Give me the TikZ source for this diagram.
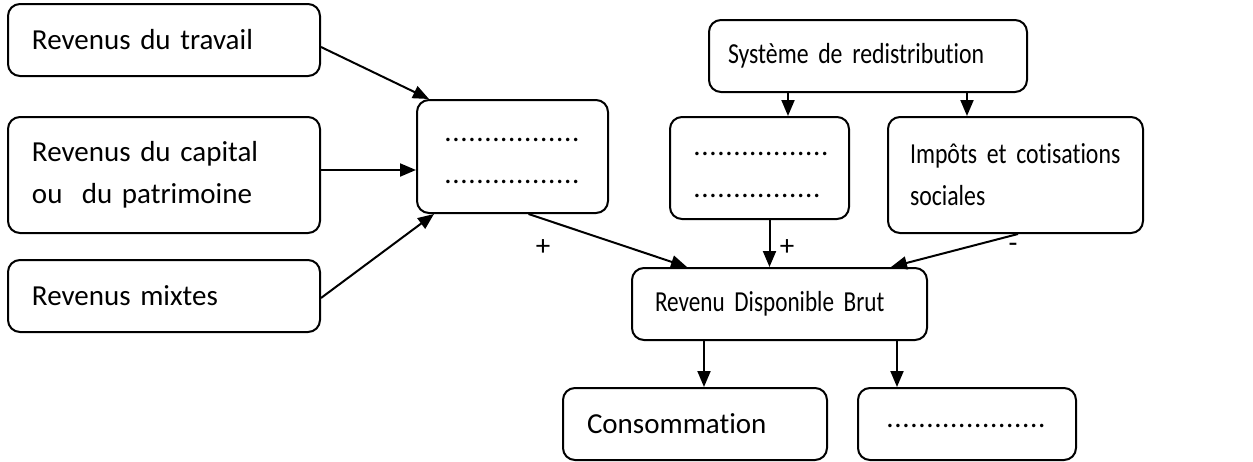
\documentclass[tikz,border=0pt]{standalone}
\usepackage{fontspec}
\setmainfont{Carlito}[Ligatures=NoCommon]
\newfontfamily\narrowfont{Carlito}[FakeStretch=0.82,Ligatures=NoCommon]
\newfontfamily\narrowerfont{Carlito}[FakeStretch=0.8,Ligatures=NoCommon]
\usetikzlibrary{arrows.meta}
\tikzstyle{box} = [draw,line width=1pt,rounded corners=6pt,align=left,inner xsep=12pt,inner ysep=0pt,minimum height=36pt,font=\fontsize{14.5}{21}\selectfont]
\tikzstyle{arrow} = [line width=1pt,-{Triangle[length=8pt,width=6.5pt]}]
\tikzstyle{sign} = [font=\fontsize{14.5}{16}\selectfont,inner sep=0pt]
\newdimen\dotpitch \dotpitch=4pt
\newcommand{\dotsline}[1]{\hbox to \dimexpr#1\dotpitch+0.2pt\relax{\leaders\hbox to \dotpitch{\hss.\hss}\hfil}}

\begin{document}
\begin{tikzpicture}[x=0.5pt,y=-0.5pt]
	\useasboundingbox (0,0) rectangle (1253,461);

	% sources de revenus
	\node (travail) at (164,40) [box,text width=132pt] {Revenus du travail};
	\node (capital) at (164,175) [box,text width=132pt,minimum height=58pt] {Revenus du capital\\ou\ \ du patrimoine};
	\node (mixtes) at (164,296) [box,text width=132pt] {Revenus mixtes};
	\node (primaires) at (512.5,156.5) [box,inner xsep=13.5pt,text width=68.5pt,minimum height=56.5pt] {\rule{0pt}{6pt}\dotsline{17}\\\dotsline{17}};

	% redistribution
	\node (redis) at (868,56) [box,inner xsep=9.5pt,text width=140pt] {\narrowfont Système de redistribution};
	\node (presta) at (759.5,168) [box,inner xsep=11.5pt,text width=66.5pt,minimum height=51pt] {\rule{0pt}{9pt}\dotsline{17}\\\dotsline{16}};
	\node (impots) at (1015.5,175) [box,inner xsep=11pt,text width=105.5pt,minimum height=58pt] {\narrowfont Impôts et cotisations\\sociales};

	% revenu disponible et emplois
	\node (rdb) at (779.5,304) [box,inner xsep=11.5pt,text width=124.5pt] {\narrowerfont Revenu Disponible Brut};
	\node (conso) at (695,424) [box,text width=108pt] {Consommation};
	\node (epargne) at (967,424) [box,inner xsep=14pt,text width=81pt] {\rule{0pt}{4pt}\dotsline{20}};

	\node (plusA) at (543,248) [sign] {+};
	\node (plusB) at (787,248) [sign] {+};
	\node (moins) at (1013,248) [sign] {-};

	\draw [arrow] ([yshift=-3.5pt]travail.east) -- ([xshift=6.5pt]primaires.north west);
	\draw [arrow] ([yshift=2.5pt]capital.east) -- ([yshift=2.5pt]capital.east -| primaires.west);
	\draw [arrow] ([yshift=-1pt]mixtes.east) -- ([xshift=9pt]primaires.south west);
	\draw [arrow] ([xshift=8pt]primaires.south) -- ([xshift=28pt]rdb.north west);

	\draw [arrow] ([xshift=-40pt]redis.south) -- ([xshift=-40pt]redis.south |- presta.north);
	\draw [arrow] ([xshift=49.5pt]redis.south) -- ([xshift=49.5pt]redis.south |- impots.north);
	\draw [arrow] ([xshift=5pt]presta.south) -- ([xshift=5pt]presta.south |- rdb.north);
	\draw [arrow] ([xshift=1.25pt]impots.south) -- ([xshift=-18.5pt]rdb.north east);

	\draw [arrow] ([xshift=-37.75pt]rdb.south) -- ([xshift=-37.75pt]rdb.south |- conso.north);
	\draw [arrow] ([xshift=58.75pt]rdb.south) -- ([xshift=58.75pt]rdb.south |- epargne.north);
\end{tikzpicture}
\end{document}
